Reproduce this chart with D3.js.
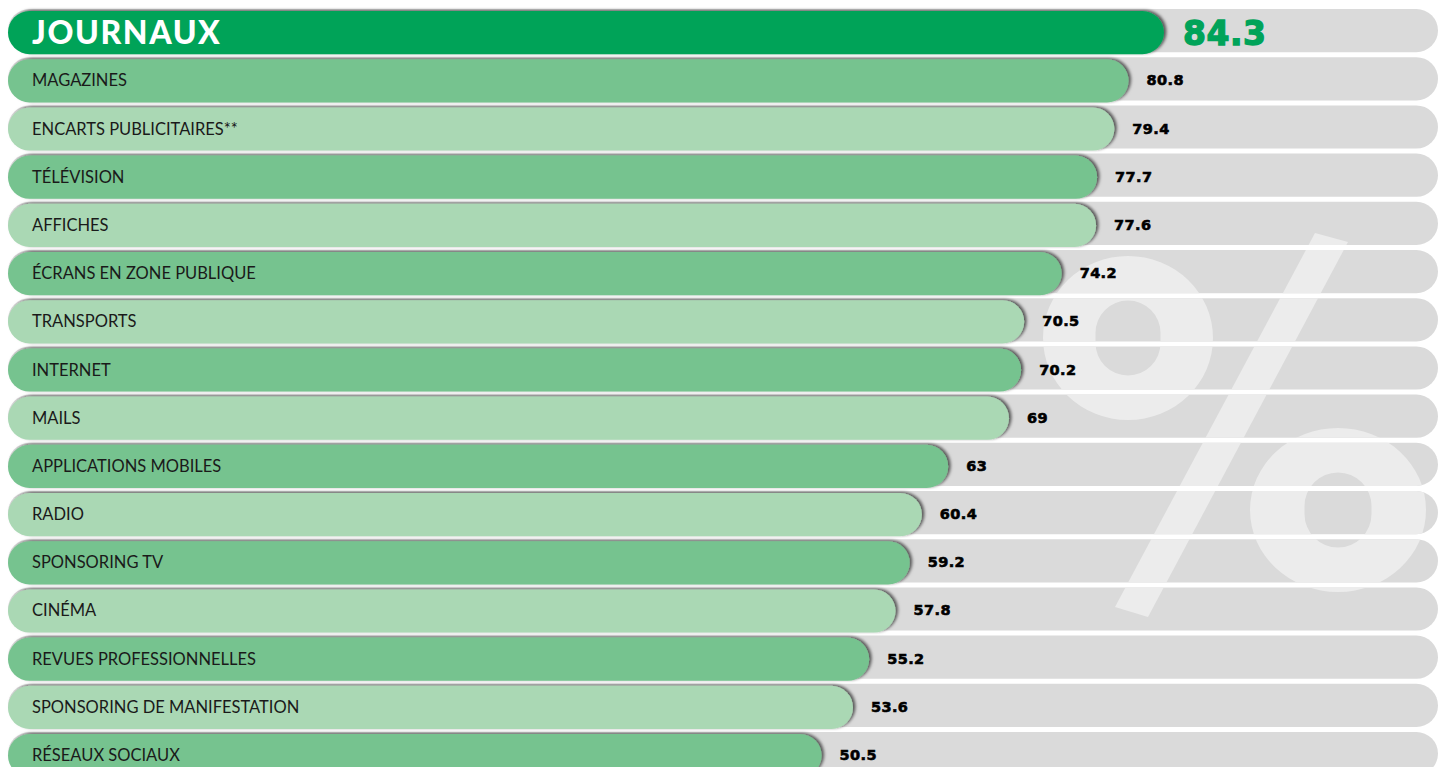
<!DOCTYPE html>
<html>
<head>
<meta charset="utf-8">
<script src="https://cdn.jsdelivr.net/npm/d3@7"></script>
<style>
  html, body { margin: 0; padding: 0; background: #ffffff; }
  svg { display: block; }
</style>
</head>
<body>
<svg id="chart" width="1448" height="767"></svg>
<script>
// ---- data ----
const categories = [
  "JOURNAUX", "MAGAZINES", "ENCARTS PUBLICITAIRES**", "TÉLÉVISION", "AFFICHES",
  "ÉCRANS EN ZONE PUBLIQUE", "TRANSPORTS", "INTERNET", "MAILS", "APPLICATIONS MOBILES",
  "RADIO", "SPONSORING TV", "CINÉMA", "REVUES PROFESSIONNELLES",
  "SPONSORING DE MANIFESTATION", "RÉSEAUX SOCIAUX"
];
const values = [84.3, 80.8, 79.4, 77.7, 77.6, 74.2, 70.5, 70.2, 69, 63, 60.4, 59.2, 57.8, 55.2, 53.6, 50.5];
const valueLabels = ["84.3", "80.8", "79.4", "77.7", "77.6", "74.2", "70.5", "70.2", "69", "63", "60.4", "59.2", "57.8", "55.2", "53.6", "50.5"];

// ---- layout ----
const left = 8, right = 1438;
const svg = d3.select("#chart");

const y = d3.scaleBand().domain(categories).range([9, 775.2]).paddingInner(0.1037).paddingOuter(0);
const x = d3.scaleLinear().domain([0, 100]).range([310, 1323]);
const bh = y.bandwidth();
const colorFor = i => i === 0 ? "#00a359" : (i % 2 === 1 ? "#76c38f" : "#aad8b4");

const defs = svg.append("defs");
const f = defs.append("filter").attr("id", "shadow").attr("x", "-5%").attr("y", "-30%").attr("width", "110%").attr("height", "160%");
f.append("feDropShadow").attr("dx", 2.5).attr("dy", -1).attr("stdDeviation", 1.6)
  .attr("flood-color", "#000").attr("flood-opacity", 0.6);

const clip = defs.append("clipPath").attr("id", "rowsClip");
clip.selectAll("rect").data(categories).join("rect")
  .attr("x", left).attr("y", d => y(d)).attr("width", right - left).attr("height", bh)
  .attr("rx", bh / 2).attr("ry", bh / 2);

// background rows
svg.append("g").selectAll("rect").data(categories).join("rect")
  .attr("x", left).attr("y", d => y(d)).attr("width", right - left).attr("height", bh)
  .attr("rx", bh / 2).attr("ry", bh / 2).attr("fill", "#dadada");

// "%" watermark (decorative), clipped to the grey rows
const wm = svg.append("g").attr("clip-path", "url(#rowsClip)").attr("fill", "#ececec");
function ring(cx, cy, rx, ry, hw, hh) {
  return `M${cx - rx},${cy} a${rx},${ry} 0 1,0 ${2 * rx},0 a${rx},${ry} 0 1,0 ${-2 * rx},0 Z ` +
         `M${cx - hw},${cy - hh + hw} a${hw},${hw} 0 0,1 ${2 * hw},0 v${2 * (hh - hw)} a${hw},${hw} 0 0,1 ${-2 * hw},0 Z`;
}
wm.append("path").attr("fill-rule", "evenodd").attr("d", ring(1128, 338, 85, 82, 32.5, 37.5));
wm.append("path").attr("fill-rule", "evenodd").attr("d", ring(1338, 510, 88, 82, 33.5, 37.5));
wm.append("path").attr("d", "M1315,233 L1348,242 L1148,617 L1115,607 Z");

// bars
svg.append("g").selectAll("rect").data(categories).join("rect")
  .attr("x", left).attr("y", d => y(d) + 2)
  .attr("width", (d, i) => x(values[i]) - left).attr("height", bh)
  .attr("rx", bh / 2).attr("ry", bh / 2)
  .attr("fill", (d, i) => colorFor(i))
  .attr("filter", "url(#shadow)");

// category labels
svg.append("g").selectAll("text").data(categories).join("text")
  .attr("x", 32)
  .attr("y", (d, i) => y(d) + 2 + bh / 2 + (i === 0 ? 11.5 : 5.5))
  .attr("font-family", "Lato, 'Noto Sans', sans-serif")
  .attr("font-weight", (d, i) => i === 0 ? 900 : 400)
  .attr("font-size", (d, i) => i === 0 ? 32 : 16.5)
  .attr("letter-spacing", (d, i) => i === 0 ? 1.6 : 0)
  .attr("fill", (d, i) => i === 0 ? "#ffffff" : "#1a1a1a")
  .text(d => d);

// value labels
svg.append("g").selectAll("text").data(categories).join("text")
  .attr("x", (d, i) => x(values[i]) + (i === 0 ? 19 : 18))
  .attr("y", (d, i) => y(d) + 2 + bh / 2 + (i === 0 ? 12 : 4.5))
  .attr("font-family", "'DejaVu Sans', sans-serif")
  .attr("font-weight", "bold")
  .attr("font-size", (d, i) => i === 0 ? 33 : 14.5)
  .attr("letter-spacing", (d, i) => i === 0 ? 0.5 : 0.4)
  .attr("fill", (d, i) => i === 0 ? "#00a359" : "#000000")
  .attr("stroke", (d, i) => i === 0 ? "#00a359" : "#000000")
  .attr("stroke-width", (d, i) => i === 0 ? 1.3 : 0.6)
  .text((d, i) => valueLabels[i]);
</script>
</body>
</html>
